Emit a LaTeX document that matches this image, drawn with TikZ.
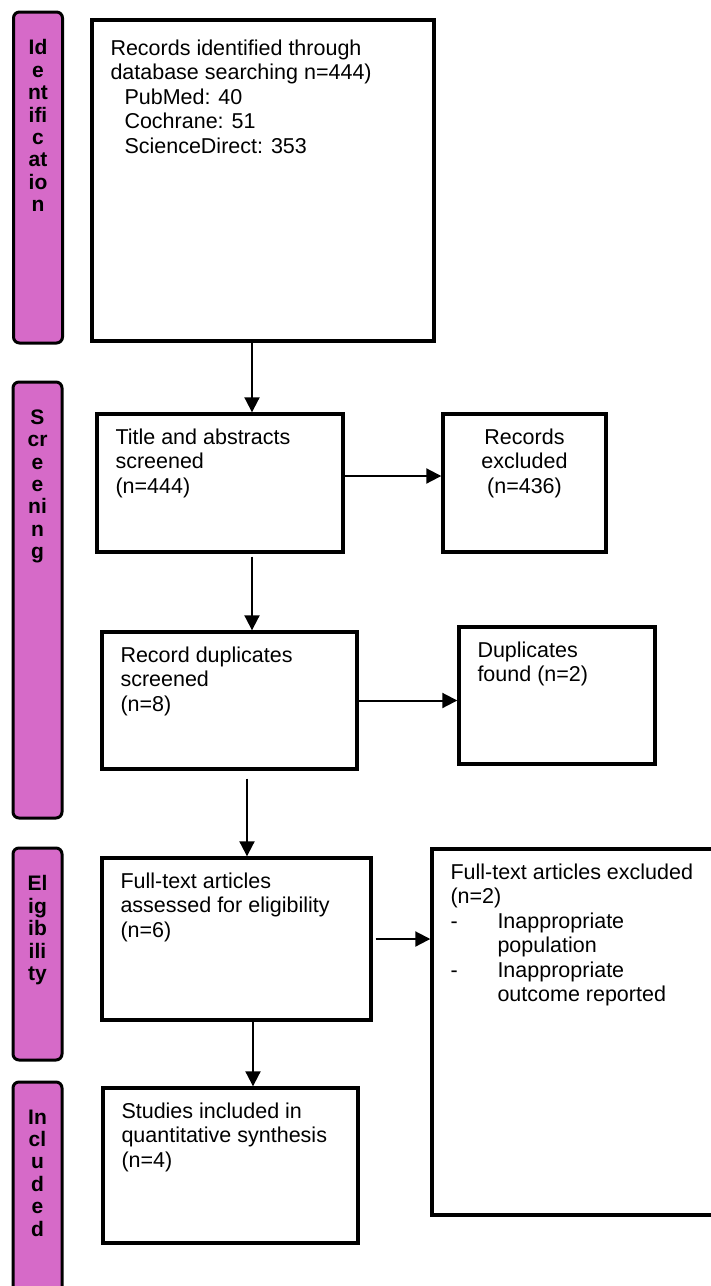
\documentclass[tikz,border=0pt]{standalone}
\usepackage{fontspec}
\setmainfont{Liberation Sans}
\usetikzlibrary{arrows.meta}
\definecolor{phase}{RGB}{214,106,200}
\newcommand{\dashitem}[1]{\makebox[47pt][l]{-}#1}

\begin{document}
\begin{tikzpicture}[x=1pt, y=-1pt, font=\fontsize{21.5}{24.5}\selectfont,
    box/.style={draw, line width=3.4pt, inner sep=0pt},
    phasebar/.style={draw, line width=3pt, rounded corners=6pt, fill=phase, inner sep=0pt, minimum width=49pt},
    boxtext/.style={label={[anchor=north west, align=left, inner sep=0pt, xshift=20pt, yshift=-16pt]north west:{#1}}},
    boxtextc/.style={label={[anchor=north, align=center, inner sep=0pt, yshift=-16pt]north:{#1}}},
    bartext/.style={label={[anchor=north, align=center, inner sep=0pt, yshift=-29pt, font=\fontsize{21}{22.4}\selectfont\bfseries]north:{#1}}},
    arr/.style={-{Triangle[length=15pt, width=15pt]}, line width=2pt}]

    \useasboundingbox (0,0) rectangle (711,1286);

    % phase bars on the left
    \node[phasebar, minimum height=331pt, bartext={Id\\e\\nt\\ifi\\c\\at\\io\\n}] (identbar) at (38,177.5) {};
    \node[phasebar, minimum height=436pt, bartext={S\\cr\\e\\e\\ni\\n\\g}] (screenbar) at (37.5,600) {};
    \node[phasebar, minimum height=212pt, bartext={El\\ig\\ib\\ili\\ty}] (eligbar) at (37.5,954) {};
    \node[phasebar, minimum height=230pt, bartext={In\\cl\\u\\d\\e\\d}] (inclbar) at (37.5,1197) {};

    % flow boxes
    \node[box, minimum width=342pt, minimum height=321pt,
        label={[anchor=north west, align=left, inner sep=0pt, xshift=20pt, yshift=-21pt]north west:{Records identified through\\database searching n=444)\\\hspace*{14pt}PubMed: 40\\\hspace*{14pt}Cochrane: 51\\\hspace*{14pt}ScienceDirect: 353}}] (records) at (263,180.5) {};
    \node[box, minimum width=246pt, minimum height=138pt,
        boxtext={Title and abstracts\\screened\\(n=444)}] (title) at (220,483) {};
    \node[box, minimum width=163pt, minimum height=138pt,
        boxtextc={Records\\excluded\\(n=436)}] (excluded) at (524.5,483) {};
    \node[box, minimum width=255pt, minimum height=137pt,
        boxtext={Record duplicates\\screened\\(n=8)}] (dupscreen) at (229.5,700.5) {};
    \node[box, minimum width=196pt, minimum height=137pt,
        boxtext={Duplicates\\found (n=2)}] (dupfound) at (557,695.5) {};
    \node[box, minimum width=269pt, minimum height=162pt,
        boxtext={Full-text articles\\assessed for eligibility\\(n=6)}] (fulltext) at (236.5,939) {};
    \node[box, minimum width=288pt, minimum height=366pt,
        boxtext={Full-text articles excluded\\(n=2)\\\dashitem{Inappropriate}\\\hspace*{47pt}population\\\dashitem{Inappropriate}\\\hspace*{47pt}outcome reported}] (ftexcluded) at (576,1032) {};
    \node[box, minimum width=255pt, minimum height=155pt,
        boxtext={Studies included in\\quantitative synthesis\\(n=4)}] (studies) at (230.5,1165.5) {};

    \draw[arr] ([xshift=-11pt]records.south) -- ([xshift=-11pt]records.south |- title.north);
    \draw[arr] ([yshift=7pt]title.east) -- ([yshift=7pt]title.east -| excluded.west);
    \draw[arr] ([xshift=32pt, yshift=-3pt]title.south) -- ([xshift=32pt]title.south |- dupscreen.north);
    \draw[arr] (dupscreen.east) -- (dupscreen.east -| dupfound.west);
    \draw[arr] ([xshift=17.5pt, yshift=-8pt]dupscreen.south) -- ([xshift=17.5pt]dupscreen.south |- fulltext.north);
    \draw[arr] ([xshift=3pt]fulltext.east) -- (fulltext.east -| ftexcluded.west);
    \draw[arr] ([xshift=16.5pt]fulltext.south) -- ([xshift=16.5pt]fulltext.south |- studies.north);
\end{tikzpicture}
\end{document}
